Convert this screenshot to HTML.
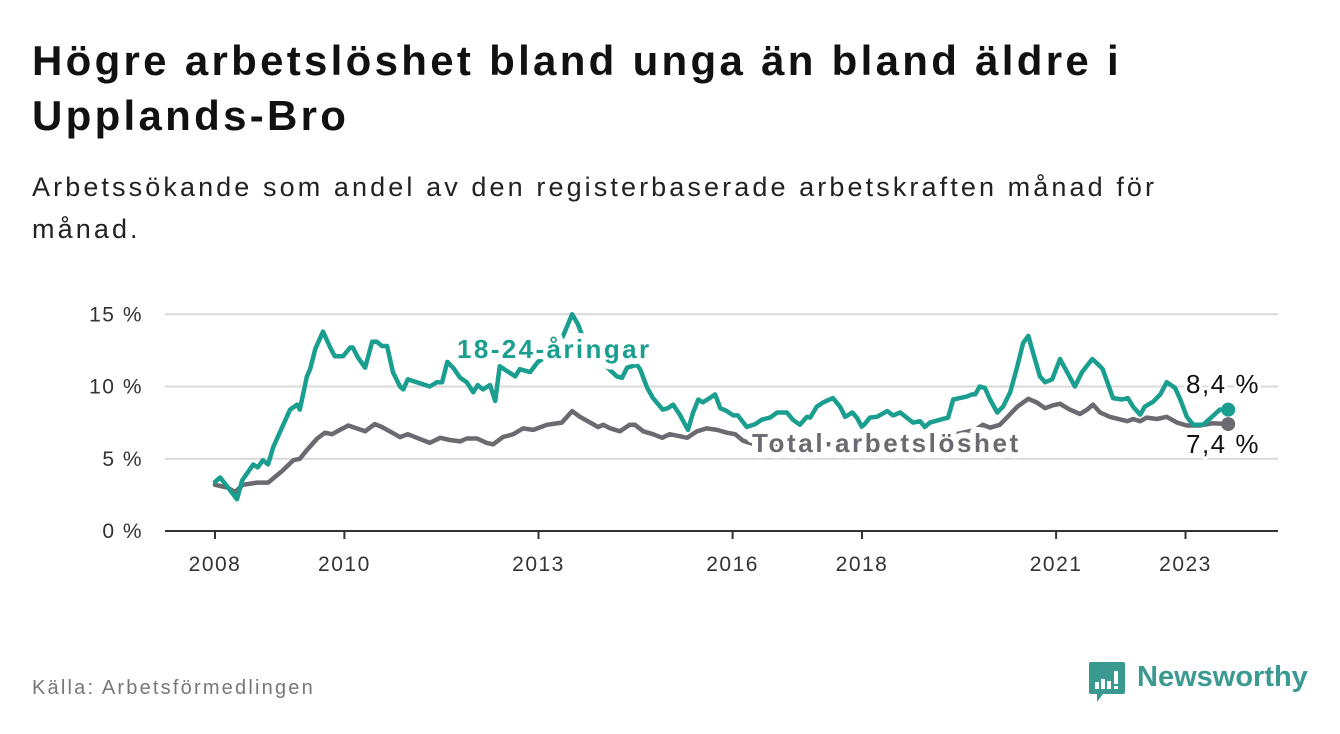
<!DOCTYPE html>
<html><head><meta charset="utf-8">
<style>
body{margin:0;background:#fff;width:1340px;height:734px;overflow:hidden;font-family:"Liberation Sans","DejaVu Sans",sans-serif;}
h1{position:absolute;left:32px;top:33px;margin:0;font-size:42px;line-height:55px;font-weight:bold;color:#111;width:1290px;letter-spacing:3.3px;white-space:nowrap;}
.sub{position:absolute;left:32px;top:166px;margin:0;font-size:27px;line-height:42px;color:#222;width:1290px;letter-spacing:3.1px;white-space:nowrap;}
.src{position:absolute;left:32px;top:677px;font-size:20px;color:#777;letter-spacing:2.2px;}
svg{position:absolute;left:0;top:0;}
</style></head><body>
<h1>Högre arbetslöshet bland unga än bland äldre i<br>Upplands-Bro</h1>
<p class="sub">Arbetssökande som andel av den registerbaserade arbetskraften månad för<br>månad.</p>
<div class="src">Källa: Arbetsförmedlingen</div>
<svg id="chart" width="1340" height="734"></svg>
<div style="position:absolute;left:1089px;top:662px;">
<svg width="38" height="42" viewBox="0 0 38 42" style="position:absolute;left:0;top:0"><path d="M2 0H34Q36 0 36 2V30Q36 32 34 32H14L8 40L8 32H2Q0 32 0 30V2Q0 0 2 0Z" fill="#3a9a92"/><rect x="6" y="20" width="4" height="7" fill="#fff"/><rect x="12" y="17" width="4" height="10" fill="#fff"/><rect x="18" y="19" width="4" height="8" fill="#fff"/><rect x="25" y="9" width="4" height="13" fill="#fff"/><rect x="25" y="24" width="4" height="3" fill="#fff"/></svg>
<span style="position:absolute;left:48px;top:-1px;font-size:29px;font-weight:bold;color:#3a9a92;white-space:nowrap;">Newsworthy</span>
</div>
<script>
const yTicks=[0,5,10,15];
const xTickYears=[2008,2010,2013,2016,2018,2021,2023];
const youthT=[2008.0,2008.08,2008.34,2008.42,2008.59,2008.66,2008.74,2008.82,2008.90,2009.00,2009.16,2009.27,2009.31,2009.42,2009.47,2009.55,2009.67,2009.78,2009.85,2009.98,2010.09,2010.13,2010.21,2010.32,2010.43,2010.50,2010.58,2010.66,2010.75,2010.86,2010.91,2010.98,2011.32,2011.43,2011.51,2011.59,2011.68,2011.79,2011.89,2011.99,2012.06,2012.14,2012.25,2012.33,2012.40,2012.64,2012.71,2012.87,2012.99,2013.10,2013.26,2013.38,2013.52,2013.61,2013.72,2013.95,2014.21,2014.29,2014.37,2014.52,2014.57,2014.68,2014.77,2014.92,2015.00,2015.08,2015.19,2015.31,2015.39,2015.47,2015.54,2015.68,2015.73,2015.81,2015.91,2016.01,2016.08,2016.22,2016.35,2016.45,2016.58,2016.69,2016.84,2016.93,2017.04,2017.15,2017.20,2017.30,2017.40,2017.55,2017.66,2017.74,2017.85,2017.92,2018.00,2018.06,2018.12,2018.23,2018.39,2018.48,2018.59,2018.79,2018.90,2018.97,2019.05,2019.21,2019.33,2019.41,2019.51,2019.62,2019.70,2019.75,2019.82,2019.90,2019.98,2020.09,2020.18,2020.29,2020.40,2020.49,2020.57,2020.64,2020.75,2020.83,2020.94,2021.06,2021.17,2021.29,2021.40,2021.56,2021.68,2021.72,2021.88,2022.02,2022.11,2022.19,2022.30,2022.37,2022.50,2022.61,2022.71,2022.84,2022.92,2023.02,2023.12,2023.27,2023.41,2023.53,2023.66];
const youthV=[3.4,3.7,2.2,3.5,4.6,4.4,4.9,4.6,5.8,6.8,8.4,8.75,8.4,10.7,11.2,12.6,13.8,12.7,12.1,12.1,12.7,12.7,12.0,11.3,13.1,13.1,12.8,12.8,11.0,10.0,9.8,10.5,10.0,10.3,10.3,11.7,11.3,10.6,10.3,9.6,10.1,9.8,10.1,9.0,11.4,10.7,11.2,11.0,11.7,12.0,12.5,13.5,15.0,14.3,13.0,11.8,10.7,10.6,11.3,11.5,11.2,9.9,9.2,8.4,8.5,8.75,8.0,7.0,8.2,9.1,8.9,9.3,9.45,8.5,8.3,8.0,8.0,7.2,7.4,7.7,7.85,8.2,8.2,7.7,7.35,7.9,7.85,8.6,8.9,9.2,8.6,7.9,8.2,7.85,7.2,7.5,7.85,7.9,8.3,8.0,8.2,7.5,7.6,7.2,7.5,7.7,7.85,9.1,9.2,9.3,9.45,9.45,10.0,9.9,9.1,8.2,8.6,9.6,11.4,13.0,13.5,12.4,10.7,10.3,10.5,11.9,11.0,10.0,11.0,11.9,11.4,11.2,9.2,9.1,9.2,8.6,8.05,8.6,8.95,9.45,10.3,9.9,9.1,7.9,7.35,7.35,7.9,8.4,8.4];
const totalT=[2008.0,2008.19,2008.31,2008.43,2008.65,2008.82,2008.93,2009.05,2009.21,2009.31,2009.42,2009.58,2009.70,2009.81,2009.93,2010.06,2010.19,2010.32,2010.47,2010.58,2010.70,2010.86,2010.98,2011.12,2011.32,2011.48,2011.63,2011.79,2011.89,2012.05,2012.20,2012.30,2012.45,2012.61,2012.76,2012.92,2013.13,2013.36,2013.52,2013.64,2013.80,2013.92,2014.00,2014.11,2014.26,2014.41,2014.49,2014.62,2014.77,2014.91,2015.03,2015.30,2015.45,2015.60,2015.76,2015.91,2016.04,2016.16,2016.30,2017.04,2017.81,2018.59,2019.36,2019.75,2019.87,2019.98,2020.13,2020.24,2020.40,2020.57,2020.70,2020.83,2020.95,2021.06,2021.21,2021.37,2021.48,2021.57,2021.68,2021.83,2022.10,2022.19,2022.30,2022.40,2022.56,2022.71,2022.87,2023.02,2023.22,2023.42,2023.66];
const totalV=[3.2,3.0,2.7,3.2,3.35,3.35,3.75,4.2,4.9,5.0,5.6,6.4,6.8,6.7,7.0,7.3,7.1,6.9,7.4,7.2,6.9,6.5,6.7,6.45,6.1,6.45,6.3,6.2,6.4,6.4,6.1,6.0,6.5,6.7,7.1,7.0,7.35,7.5,8.3,7.9,7.5,7.2,7.35,7.1,6.9,7.35,7.35,6.9,6.7,6.45,6.7,6.45,6.9,7.1,7.0,6.8,6.7,6.25,6.05,6.0,6.0,6.2,6.6,7.0,7.35,7.15,7.35,7.85,8.6,9.15,8.9,8.5,8.7,8.8,8.4,8.1,8.4,8.75,8.2,7.9,7.6,7.75,7.6,7.85,7.75,7.9,7.5,7.3,7.3,7.45,7.4];

const NS='http://www.w3.org/2000/svg';
const svg=document.getElementById('chart');
const X0=165,X1=1278;
function xs(t){return 215+(t-2008)*64.7;}
function ys(v){return 531-v*14.45;}
function mk(tag,attrs,parent){const e=document.createElementNS(NS,tag);for(const k in attrs)e.setAttribute(k,attrs[k]);(parent||svg).appendChild(e);return e;}
yTicks.forEach(v=>{
  if(v>0){const g=mk('line',{x1:X0,x2:X1,y1:ys(v),y2:ys(v),stroke:'#d9d9d9','stroke-width':2});
  
  }
  const t=mk('text',{x:143,y:ys(v)+7,'text-anchor':'end','font-size':21,fill:'#333','letter-spacing':1.5});
  t.textContent=v+' %';
  
  
});
const ax=mk('line',{x1:X0,x2:X1,y1:ys(0),y2:ys(0),stroke:'#333','stroke-width':2});


xTickYears.forEach(yr=>{
  const x=xs(yr);
  const tk=mk('line',{x1:x,x2:x,y1:ys(0),y2:ys(0)+8,stroke:'#333','stroke-width':2});
  
  
  const t=mk('text',{x:x,y:571,'text-anchor':'middle','font-size':21,fill:'#333','letter-spacing':1.5});
  t.textContent=yr;
  
  
});
function line(T,V,color,name){
  const d=T.map((t,i)=>(i?'L':'M')+xs(t).toFixed(1)+' '+ys(V[i]).toFixed(1)).join(' ');
  const p=mk('path',{d:d,fill:'none',stroke:color,'stroke-width':4.5,'stroke-linejoin':'round','stroke-linecap':'round'});
  
  
  const n=T.length-1;
  const c=mk('circle',{cx:xs(T[n]),cy:ys(V[n]),r:7,fill:color});
  
  
}
line(totalT,totalV,'#6b6a70','total-line');
line(youthT,youthV,'#1a9e8f','youth-line');
function lbl(x,y,txt,col,w,name,anchor,ls,sw){
  const t=mk('text',{x:x,y:y,'font-size':26,'font-weight':w,fill:col,stroke:'#fff','stroke-width':sw,'paint-order':'stroke','stroke-linejoin':'round','text-anchor':anchor||'start','letter-spacing':ls});
  t.textContent=txt;
  
  
}
lbl(457,358,'18-24-åringar','#1a9e8f','bold','youth-series-label','start',2.4,12);
lbl(752,452,'Total arbetslöshet','#6b6a70','bold','total-series-label','start',2.6,12);
lbl(1260,393,'8,4 %','#111','normal','youth-end-value','end',1.5,6);
lbl(1260,453,'7,4 %','#111','normal','total-end-value','end',1.5,6);
</script>
</body></html>
